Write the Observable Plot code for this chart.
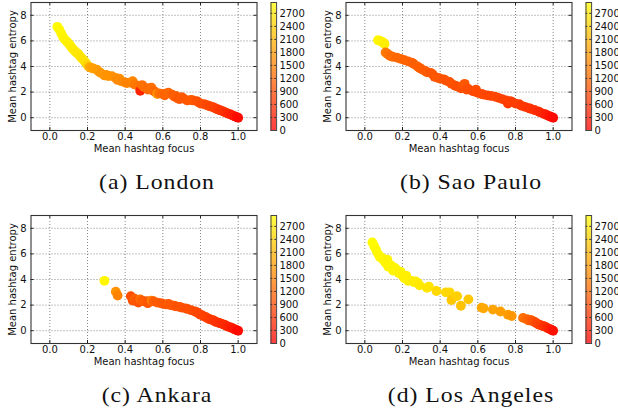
<!DOCTYPE html>
<html>
<head>
<meta charset="utf-8">
<script src="https://cdn.jsdelivr.net/npm/d3@7"></script>
<script src="https://cdn.jsdelivr.net/npm/@observablehq/plot@0.6"></script>
<style>
  html, body { margin: 0; padding: 0; background: #fff; }
  body { width: 618px; height: 415px; overflow: hidden; position: relative; }
  .box { position: absolute; overflow: visible; }
  .box svg { max-width: none !important; display: block; }
  .cap { position: absolute; width: 300px; text-align: center; font-family: "Liberation Serif", serif; font-size: 22px; line-height: 22px; color: #111; letter-spacing: 0.9px; transform: scaleX(1.08); transform-origin: 50% 50%; }
  svg { font-family: "DejaVu Sans", sans-serif; }
</style>
</head>
<body>
<script>
// ---- tick labels ----
const xTicks = [0.0, 0.2, 0.4, 0.6, 0.8, 1.0];
const yTicks = [0, 2, 4, 6, 8];
const cbTicks = [0, 300, 600, 900, 1200, 1500, 1800, 2100, 2400, 2700];
const colorMax = 2950;

// ---- (a) London ----
const londonFocus = [0.04,0.05,0.06,0.07,0.08,0.09,0.10,0.11,0.12,0.13,0.14,0.15,0.16,0.17,0.18,0.19,0.20,
  0.21,0.22,0.23,0.25,0.26,0.27,0.29,0.30,0.31,0.33,0.35,0.36,0.37,0.38,0.40,0.41,0.43,0.44,0.45,0.47,0.48,0.49,0.50,
  0.52,0.53,0.54,0.55,0.56,0.57,0.58,0.60,0.61,0.62,0.63,0.65,0.66,0.67,0.68,0.69,0.70,0.71,0.73,0.75,0.76,0.78,0.79,
  0.80,0.82,0.83,0.84,0.85,0.86,0.87,0.88,0.89,0.90,0.91,0.92,0.93,0.94,0.95,0.96,0.97,0.98,0.99,1.00];
const londonEntropy = [7.1,6.9,6.6,6.3,6.1,5.95,5.8,5.6,5.4,5.25,5.1,5.0,4.8,4.65,4.5,4.3,4.1,
  3.95,3.9,3.85,3.75,3.6,3.5,3.3,3.35,3.25,3.25,3.1,2.95,3.05,2.85,2.75,2.7,2.75,2.85,2.6,2.5,2.1,2.55,2.4,
  2.2,2.3,2.35,2.1,2.0,1.85,1.9,1.85,1.75,1.9,1.95,1.8,1.65,1.7,1.5,1.45,1.6,1.5,1.35,1.4,1.35,1.3,1.2,
  1.1,1.05,1.0,0.95,0.9,0.85,0.8,0.72,0.66,0.6,0.55,0.5,0.42,0.36,0.3,0.25,0.18,0.12,0.06,0.0];
const londonUsers = [2900,2880,2860,2840,2820,2800,2780,2760,2740,2720,2700,2680,2660,2640,2620,2600,2450,
  2000,1900,1850,1800,1800,1750,1750,1700,1700,1700,1650,1600,1650,1600,1550,1500,1500,1550,1400,1350,400,1300,1300,
  1250,1250,1300,1250,1200,1750,1300,1200,1150,1150,1200,1100,1100,1100,1000,1000,1050,1000,1000,1050,1000,950,950,
  900,900,850,850,800,800,750,750,700,650,600,600,550,500,450,400,350,300,200,100];

// ---- (b) Sao Paulo ----
const saoFocus = [0.07,0.08,0.09,0.10,0.105,
  0.11,0.12,0.13,0.14,0.15,0.17,0.19,0.21,0.23,0.25,0.26,0.28,0.29,0.30,0.32,0.33,0.35,0.36,0.37,0.39,0.40,0.42,0.43,
  0.45,0.46,0.48,0.49,0.50,0.51,0.52,0.53,0.54,0.55,0.57,0.58,0.59,0.60,0.62,0.63,0.65,0.67,0.69,0.71,0.73,0.75,0.76,
  0.77,0.78,0.80,0.82,0.83,0.85,0.87,0.88,0.90,0.92,0.93,0.95,0.96,0.97,0.98,0.99,1.00];
const saoEntropy = [6.05,6.0,5.95,5.85,5.75,
  5.1,5.0,4.85,4.8,4.75,4.7,4.6,4.5,4.4,4.3,4.2,4.0,3.9,3.8,3.65,3.55,3.5,3.4,3.2,3.1,3.05,3.0,2.9,
  2.8,2.65,2.5,2.45,2.4,2.3,2.5,2.65,2.2,2.25,2.1,2.05,2.2,1.95,1.85,1.8,1.75,1.7,1.65,1.55,1.45,1.35,1.1,
  1.3,1.25,1.1,1.05,0.95,0.85,0.75,0.7,0.6,0.5,0.42,0.3,0.25,0.18,0.12,0.06,0.0];
const saoUsers = [2850,2850,2800,2800,2750,
  1450,1350,1300,1250,1250,1200,1200,1150,1150,1150,1100,1100,1100,1050,1050,1050,1000,1000,1000,1000,1000,950,950,
  950,950,900,900,900,900,950,1000,900,900,900,850,900,850,850,850,800,800,800,800,750,750,650,
  750,700,700,700,650,650,600,600,550,500,450,400,350,300,250,200,100];

// ---- (c) Ankara ----
const ankaraFocus = [0.29,0.35,0.36,0.43,0.44,0.45,0.46,0.47,0.48,0.49,0.50,0.52,0.52,0.54,0.55,0.57,0.59,0.60,0.62,0.63,
  0.64,0.66,0.67,0.69,0.70,0.72,0.73,0.75,0.77,0.78,0.79,0.80,0.81,0.82,0.83,0.84,0.85,0.86,0.87,0.88,0.89,0.90,
  0.91,0.92,0.93,0.94,0.95,0.96,0.97,0.98,0.99,1.00];
const ankaraEntropy = [3.9,3.05,2.75,2.7,2.35,2.5,2.3,2.2,2.45,2.35,2.3,2.3,2.15,2.35,2.3,2.2,2.15,2.1,2.05,2.1,
  2.0,1.95,1.9,1.85,1.8,1.75,1.7,1.6,1.5,1.45,1.35,1.25,1.2,1.1,1.05,0.95,0.9,0.85,0.8,0.7,0.65,0.6,
  0.55,0.5,0.45,0.35,0.3,0.25,0.2,0.12,0.06,0.0];
const ankaraUsers = [2850,1700,1500,900,950,1100,1000,950,1300,1050,1100,1050,1000,1500,1100,1050,1050,1000,1000,1050,
  1000,1000,950,950,950,900,900,900,850,850,800,800,800,750,750,700,700,650,650,600,600,550,
  550,500,500,450,400,350,300,250,200,100];

// ---- (d) Los Angeles ----
const laFocus = [0.04,0.05,0.06,0.07,0.08,0.09,0.10,0.11,0.12,0.125,0.14,0.15,0.16,0.17,0.18,0.19,0.20,0.21,0.22,0.23,
  0.25,0.26,0.27,0.28,0.29,0.33,0.34,0.38,0.43,0.45,0.46,0.49,0.51,0.55,0.62,0.63,0.68,0.72,0.76,0.78,
  0.84,0.86,0.87,0.88,0.89,0.90,0.91,0.92,0.93,0.94,0.95,0.96,0.97,0.98,0.99,1.00];
const laEntropy = [6.9,6.6,6.3,6.0,5.75,5.7,5.5,5.3,5.55,5.0,5.1,4.7,4.9,4.75,4.5,4.6,4.3,4.1,4.3,3.9,
  3.9,3.8,3.85,3.75,3.55,3.35,3.45,3.1,3.0,3.0,2.4,2.7,1.95,2.45,1.8,1.75,1.65,1.5,1.25,1.15,
  1.0,0.9,0.8,0.85,0.75,0.7,0.6,0.5,0.45,0.4,0.35,0.3,0.2,0.15,0.08,0.0];
const laUsers = [2900,2900,2880,2880,2860,2860,2850,2850,2840,2840,2830,2820,2820,2810,2800,2800,2790,2780,2780,2760,
  2750,2740,2740,2730,2700,2650,2650,2500,2500,2480,2300,2400,2250,2300,1950,1950,1900,1850,1800,1750,
  1300,1200,1150,1100,1000,950,850,800,750,700,600,550,500,400,300,200];

// matplotlib "autumn": red -> yellow
const colorOpts = {type: "linear", domain: [0, colorMax], range: [0, 1], interpolate: t => d3.rgb(255, Math.round(255 * t), 0).formatHex()};

const FS = 10;

function panel(focus, entropy, users, left, top, caption) {
  const data = focus.map((f, i) => ({focus: f, entropy: entropy[i], users: users[i]}));
  const W = 262, H = 155, mT = 2, mB = 25, mL = 30.5, mR = 5.5;
  const innerH = H - mT - mB, innerW = W - mL - mR;
  const main = Plot.plot({
    width: W, height: H, marginTop: mT, marginBottom: mB, marginLeft: mL, marginRight: mR,
    style: {background: "transparent", color: "#111", fontSize: FS + "px", maxWidth: "none"},
    x: {domain: [-0.1, 1.1]},
    y: {domain: [-1, 9]},
    color: colorOpts,
    marks: [
      Plot.gridX(xTicks, {stroke: "#555", strokeOpacity: 0.7, strokeDasharray: "1,2"}),
      Plot.gridY(yTicks, {stroke: "#555", strokeOpacity: 0.7, strokeDasharray: "1,2"}),
      Plot.dot(data, {x: "focus", y: "entropy", fill: "users", r: 4.9, stroke: null, fillOpacity: 1}),
      Plot.tickX(xTicks, {x: d => d, insetTop: innerH - 3, stroke: "#222"}),
      Plot.tickX(xTicks, {x: d => d, insetBottom: innerH - 3, stroke: "#222"}),
      Plot.tickY(yTicks, {y: d => d, insetRight: innerW - 3, stroke: "#222"}),
      Plot.tickY(yTicks, {y: d => d, insetLeft: innerW - 3, stroke: "#222"}),
      Plot.frame({stroke: "#333", strokeWidth: 1.1}),
      Plot.axisX(xTicks, {tickSize: 0, tickPadding: 2.5, tickFormat: d3.format(".1f"), fontSize: FS, label: null}),
      Plot.axisY(yTicks, {tickSize: 0, tickPadding: 4.5, tickFormat: d3.format("d"), fontSize: FS, label: null}),
      Plot.text(["Mean hashtag focus"], {frameAnchor: "bottom", lineAnchor: "middle", textAnchor: "middle", dy: 18.5, fontSize: FS, fill: "#111"}),
      Plot.text(["Mean hashtag entropy"], {frameAnchor: "left", lineAnchor: "middle", textAnchor: "middle", dx: -18, rotate: -90, fontSize: FS, fill: "#111"})
    ]
  });
  const box = document.createElement("div");
  box.className = "box";
  box.style.left = left + "px";
  box.style.top = top + "px";
  box.style.width = W + "px";
  box.appendChild(main);
  document.body.appendChild(box);

  // colorbar
  const ramp = d3.range(0, colorMax, 5);
  const cbW = 5.6, cbTotal = 45;
  const cb = Plot.plot({
    width: cbTotal, height: H, marginTop: mT, marginBottom: mB, marginLeft: 0.5, marginRight: cbTotal - 0.5 - cbW,
    style: {background: "transparent", color: "#111", fontSize: FS + "px", maxWidth: "none"},
    x: {domain: [0, 1], axis: null},
    y: {domain: [0, colorMax]},
    color: colorOpts,
    marks: [
      Plot.rect(ramp, {x1: 0, x2: 1, y1: d => d, y2: d => Math.min(d + 6, colorMax), fill: d => d}),
      Plot.tickY(cbTicks, {y: d => d, insetRight: cbW - 1.8, stroke: "#333"}),
      Plot.tickY(cbTicks, {y: d => d, insetLeft: cbW - 1.8, stroke: "#333"}),
      Plot.frame({stroke: "#444", strokeWidth: 1}),
      Plot.axisY(cbTicks, {anchor: "right", tickSize: 0, tickPadding: 2.8, fontSize: FS, tickFormat: d3.format("d"), label: null})
    ]
  });
  const cbBox = document.createElement("div");
  cbBox.className = "box";
  cbBox.style.left = (left + 270.3) + "px";
  cbBox.style.top = top + "px";
  cbBox.style.width = cbTotal + "px";
  cbBox.appendChild(cb);
  document.body.appendChild(cbBox);

  const cap = document.createElement("div");
  cap.className = "cap";
  cap.textContent = caption;
  cap.style.left = (left + 156.5 - 150) + "px";
  cap.style.top = (top + 171) + "px";
  document.body.appendChild(cap);
}

panel(londonFocus, londonEntropy, londonUsers, 0, 0, "(a) London");
panel(saoFocus, saoEntropy, saoUsers, 314.5, 0, "(b) Sao Paulo");
panel(ankaraFocus, ankaraEntropy, ankaraUsers, 0, 213, "(c) Ankara");
panel(laFocus, laEntropy, laUsers, 314.5, 213, "(d) Los Angeles");
</script>
</body>
</html>
